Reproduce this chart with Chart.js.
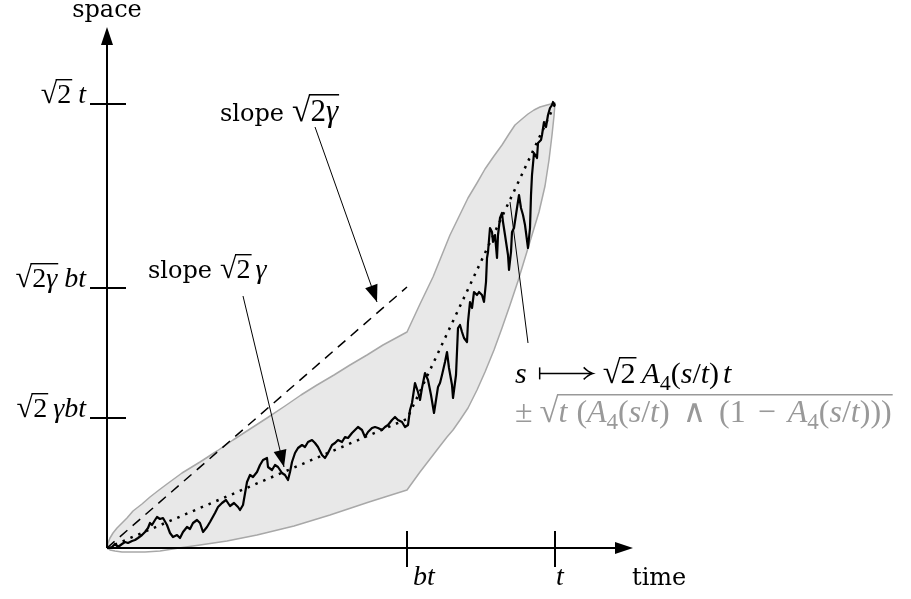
<!DOCTYPE html>
<html><head><meta charset="utf-8">
<script src="https://cdn.jsdelivr.net/npm/chart.js@4/dist/chart.umd.min.js"></script>
<style>html,body{margin:0;padding:0;background:#fff;overflow:hidden}canvas{display:block}</style>
</head><body>
<canvas id="c" width="911" height="599"></canvas>
<script>
// ---- data (units: time along x, space along y) ----
const walkX = [0,1,5,8,11,15,18,21,25,28,31,35,38,41,43,45,48,50,53,56,60,63,66,70,73,76,80,83,86,90,93,96,100,103,108,111,115,119,123,127,131,133,136,140,143,146,150,153,156,160,161,165,168,171,175,178,181,183,185,188,191,195,198,201,205,208,211,215,218,221,225,228,231,235,238,241,245,248,251,255,258,261,265,268,271,275,278,281,285,288,291,295,298,301,303,305,308,311,313,315,318,321,324,327,331,333,335,338,340,342,345,346,349,351,353,355,357,360,361,363,365,367,370,372,375,377,379,380,381,383,385,386,388,390,391,393,395,396,398,401,402,404,405,407,410,412,414,416,418,421,423,424,425,427,430,431,434,435,437,439,441,443,445,446,448];
const walkY = [0,0,1,4,1,4,6,5,7,8,10,13,16,20,25,23,28,31,29,30,23,15,11,13,10,16,21,19,25,28,25,16,21,26,35,41,45,48,42,45,41,38,43,66,73,71,76,83,88,90,81,78,83,81,75,73,68,76,86,95,100,103,101,106,108,105,101,93,90,95,103,105,108,106,111,110,115,118,121,118,111,116,120,121,120,118,121,123,128,131,128,126,121,123,138,145,165,156,148,160,175,168,153,135,161,165,173,186,196,180,163,150,173,220,223,216,210,206,226,246,240,256,253,256,253,246,266,290,296,320,316,306,313,290,313,330,335,326,313,293,278,296,316,320,340,353,340,333,323,300,320,353,373,395,390,405,408,413,426,421,433,440,443,446,443];
const meanX = [0, 300, 448];
const meanY = [0, 129, 444];
const slopeLineX = [0, 300];
const slopeLineY = [0, 261];
// confidence band: upper edge forward, then lower edge back to origin
const bandX = [0,1,3,6,10,15,20,26,35,43,52,60,75,93,110,126,143,160,178,194,210,227,243,260,276,300,313,326,343,361,370,378,387,395,402,408,415,421,427,433,440,448,447,445,442,438,432,425,418,411,403,395,387,378,370,361,353,346,340,333,323,313,300,262,223,187,150,120,93,72,53,38,23,15,8,3,0];
const bandY = [0,5,10,15,20,25,30,37,44,51,58,64,75,86,97,108,119,130,142,153,163,173,183,193,203,216,244,271,313,350,365,379,392,403,414,423,429,434,438,441,443,445,432,413,388,362,336,313,290,267,243,220,198,176,158,140,128,118,111,102,89,76,58,46,33,22,13,7,3,0,-3,-4,-4,-4,-3,-2,0];
const xTickVals = [300, 448];
const yTickVals = [444, 260, 130];

// rich-text token helpers
const R = s => ({s, f:'r'}), I = s => ({s, f:'i'}), S = s => ({s, f:'sub'}), W = s => ({s, f:'w'});
const SP = n => ({sp:n}), MAP = n => ({map:n});
const SQ = {sq:1}, SE = {se:1};
const xTickLabels = [[I('bt')], [I('t')]];
const yTickLabels = [
  [SQ, R('2'), SE, SP(7), I('t')],
  [SQ, R('2'), I('γ'), SE, SP(7), I('bt')],
  [SQ, R('2'), SE, SP(6), I('γbt')]
];
const slopeTopLabel = [W('slope'), SP(8), SQ, R('2'), I('γ'), SE];
const slopeMidLabel = [W('slope'), SP(8), SQ, R('2'), SE, SP(5), I('γ')];
const formula1 = [I('s'), SP(12), MAP(54), SP(10), SQ, R('2'), SE, SP(6), I('A'), S('4'), R('('), I('s'), R('/'), I('t'), R(')'), SP(4), I('t')];
const formula2 = [R('±'), SP(7), SQ, I('t'), SP(9), R('('), I('A'), S('4'), R('('), I('s'), R('/'), I('t'), R(')'), SP(13), R('∧'), SP(13), R('(1'), SP(12), R('−'), SP(12), I('A'), S('4'), R('('), I('s'), R('/'), I('t'), R(')))'), SE];

// annotation anchors (data units)
const arrowTop = {from:[208,421], to:[270,246]};
const arrowMid = {from:[136,252], to:[177,81]};
const leader = {from:[421,205], to:[403,346]};

const WORD_SIZE = 24;
function fontOf(f, sz){
  if (f === 'i') return `italic ${sz}px "Liberation Serif", "DejaVu Serif", serif`;
  if (f === 'sub') return `${Math.round(sz*0.72)}px "Liberation Serif", "DejaVu Serif", serif`;
  if (f === 'w') return `${WORD_SIZE}px "DejaVu Serif", serif`;
  return `${sz}px "Liberation Serif", "DejaVu Serif", serif`;
}
function tokWidth(ctx, t, sz){
  if (t.sp) return t.sp;
  if (t.map) return t.map;
  if (t.se) return 0;
  if (t.sq){ ctx.font = fontOf('r', sz*1.08); return ctx.measureText('√').width; }
  ctx.font = fontOf(t.f, sz); return ctx.measureText(t.s).width;
}
function drawRich(ctx, x, y, toks, sz, color, align){
  ctx.save();
  ctx.fillStyle = color; ctx.strokeStyle = color;
  ctx.textBaseline = 'alphabetic'; ctx.textAlign = 'left';
  let total = 0; for (const t of toks) total += tokWidth(ctx, t, sz);
  let cx = x;
  if (align === 'right') cx = x - total;
  if (align === 'center') cx = x - total/2;
  let sqStart = 0, sqTop = 0;
  for (const t of toks){
    if (t.sp){ cx += t.sp; }
    else if (t.map){
      const ay = y - sz*0.32;
      ctx.lineWidth = 1.5;
      ctx.beginPath(); ctx.moveTo(cx + 1, ay - sz*0.2); ctx.lineTo(cx + 1, ay + sz*0.2); ctx.stroke();
      ctx.beginPath(); ctx.moveTo(cx + 1, ay); ctx.lineTo(cx + t.map - 1, ay); ctx.stroke();
      ctx.beginPath(); ctx.moveTo(cx + t.map - 9, ay - 6); ctx.quadraticCurveTo(cx + t.map - 4, ay - 1, cx + t.map, ay);
      ctx.quadraticCurveTo(cx + t.map - 4, ay + 1, cx + t.map - 9, ay + 6); ctx.stroke();
      cx += t.map;
    }
    else if (t.sq){
      ctx.font = fontOf('r', sz*1.08);
      const m = ctx.measureText('√');
      ctx.fillText('√', cx, y);
      sqTop = y - m.actualBoundingBoxAscent;
      cx += m.width; sqStart = cx - 1.5;
    } else if (t.se){
      ctx.lineWidth = Math.max(1.2, sz*0.05);
      ctx.beginPath(); ctx.moveTo(sqStart, sqTop + ctx.lineWidth/2); ctx.lineTo(cx + 1, sqTop + ctx.lineWidth/2); ctx.stroke();
    } else {
      ctx.font = fontOf(t.f, sz);
      const dy = t.f === 'sub' ? sz*0.22 : 0;
      ctx.fillText(t.s, cx, y + dy);
      cx += ctx.measureText(t.s).width;
    }
  }
  ctx.restore();
}
function arrowHead(ctx, x0, y0, x1, y1, len, half){
  const a = Math.atan2(y1-y0, x1-x0);
  ctx.beginPath();
  ctx.moveTo(x1, y1);
  ctx.lineTo(x1 - len*Math.cos(a) + half*Math.sin(a), y1 - len*Math.sin(a) - half*Math.cos(a));
  ctx.lineTo(x1 - len*Math.cos(a) - half*Math.sin(a), y1 - len*Math.sin(a) + half*Math.cos(a));
  ctx.closePath(); ctx.fill();
}

const pts = (xs, ys) => xs.map((x, i) => ({x, y: ys[i]}));

const decor = {
  id: 'decor',
  afterDatasetsDraw(chart){
    const ctx = chart.ctx, xs = chart.scales.x, ys = chart.scales.y;
    const px = v => xs.getPixelForValue(v), py = v => ys.getPixelForValue(v);
    const X0 = px(0), Y0 = py(0);
    ctx.save();
    ctx.strokeStyle = '#000'; ctx.fillStyle = '#000'; ctx.lineWidth = 2;
    // axes
    const xEnd = px(526), yEnd = py(521);
    ctx.beginPath(); ctx.moveTo(X0, Y0); ctx.lineTo(xEnd - 10, Y0); ctx.stroke();
    ctx.beginPath(); ctx.moveTo(X0, Y0); ctx.lineTo(X0, yEnd + 10); ctx.stroke();
    arrowHead(ctx, X0, Y0, xEnd, Y0, 18, 6);
    arrowHead(ctx, X0, Y0, X0, yEnd, 18, 6);
    // ticks
    xTickVals.forEach((v, i) => {
      const x = px(v);
      ctx.beginPath(); ctx.moveTo(x, Y0 - 17); ctx.lineTo(x, Y0 + 19); ctx.stroke();
      drawRich(ctx, x + (i === 0 ? 6 : 1), Y0 + 37, xTickLabels[i], 28, '#000', 'left');
    });
    yTickVals.forEach((v, i) => {
      const y = py(v);
      ctx.beginPath(); ctx.moveTo(X0 - 17, y); ctx.lineTo(X0 + 19, y); ctx.stroke();
      drawRich(ctx, X0 - 21, y - 1, yTickLabels[i], 28, '#000', 'right');
    });
    // axis titles
    drawRich(ctx, X0, py(531), [W('space')], 28, '#000', 'center');
    drawRich(ctx, px(525), py(-37), [W('time')], 28, '#000', 'left');
    // annotation arrows
    ctx.lineWidth = 1;
    for (const a of [arrowTop, arrowMid]){
      const x0 = px(a.from[0]), y0 = py(a.from[1]), x1 = px(a.to[0]), y1 = py(a.to[1]);
      ctx.beginPath(); ctx.moveTo(x0, y0); ctx.lineTo(x1, y1); ctx.stroke();
      arrowHead(ctx, x0, y0, x1, y1, 17, 6.5);
    }
    ctx.beginPath(); ctx.moveTo(px(leader.from[0]), py(leader.from[1])); ctx.lineTo(px(leader.to[0]), py(leader.to[1])); ctx.stroke();
    // labels
    drawRich(ctx, px(113), py(427), slopeTopLabel, 31, '#000', 'left');
    drawRich(ctx, px(41), py(270), slopeMidLabel, 28, '#000', 'left');
    drawRich(ctx, px(408), py(165), formula1, 30, '#000', 'left');
    drawRich(ctx, px(408), py(126), formula2, 32, '#999', 'left');
    ctx.restore();
  }
};

new Chart(document.getElementById('c'), {
  type: 'scatter',
  data: { datasets: [
    { data: pts(walkX, walkY), showLine: true, borderColor: '#000', borderWidth: 2.2, pointRadius: 0, tension: 0, borderJoinStyle: 'round', clip: false },
    { data: pts(meanX, meanY), showLine: true, borderColor: '#000', borderWidth: 2.5, borderDash: [2.5, 6], pointRadius: 0, clip: false },
    { data: pts(slopeLineX, slopeLineY), showLine: true, borderColor: '#000', borderWidth: 1.5, borderDash: [10, 7], pointRadius: 0, clip: false },
    { data: pts(bandX, bandY), showLine: true, borderColor: '#a8a8a8', borderWidth: 1.5, backgroundColor: '#e8e8e8', fill: 'shape', pointRadius: 0, tension: 0, borderJoinStyle: 'round', clip: false }
  ]},
  options: {
    responsive: false, animation: false, devicePixelRatio: 1,
    layout: { padding: { left: 107, right: 304, top: 48, bottom: 51 } },
    scales: {
      x: { type: 'linear', min: 0, max: 500, display: false },
      y: { type: 'linear', min: 0, max: 500, display: false }
    },
    plugins: { legend: { display: false }, tooltip: { enabled: false } }
  },
  plugins: [decor]
});
</script>
</body></html>
